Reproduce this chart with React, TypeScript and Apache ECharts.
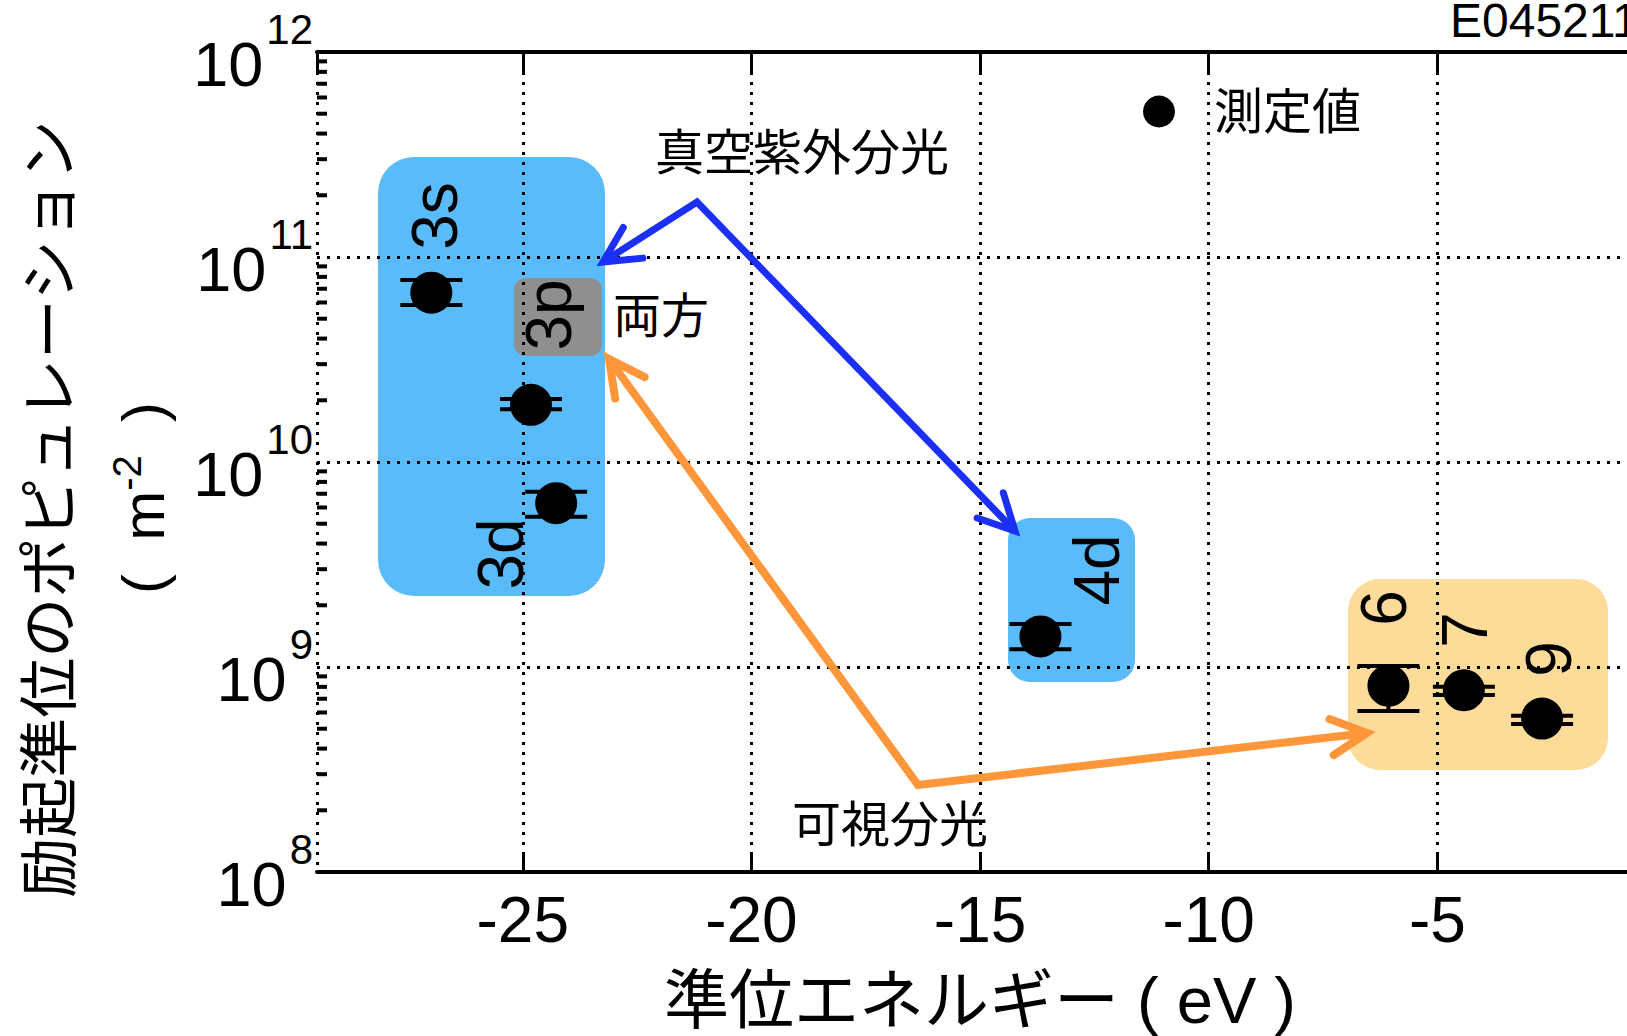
import React, { useEffect, useRef } from 'react';
import * as echarts from 'echarts';

// ---- data ----
const levels = ['3s', '3p', '3d', '4d', '6', '7', '9'];
const energies = [-27.0, -24.82, -24.27, -13.68, -6.07, -4.42, -2.71];
const populations = [6.7e10, 1.9e10, 6.3e9, 1.41e9, 8.1e8, 7.7e8, 5.6e8];
const errLow = [5.83e10, 1.81e10, 5.41e9, 1.22e9, 6.1e8, 7.3e8, 5.27e8];
const errHigh = [7.73e10, 2.03e10, 7.16e9, 1.62e9, 1.01e9, 8.0e8, 5.79e8];
const minorMultipliers = [2, 3, 4, 5, 6, 7, 8, 9];
const decades = [1e8, 1e9, 1e10, 1e11];
const xMin = -29.5;
const xMax = 0;

const FONT = "'Liberation Sans', 'Noto Sans CJK JP', sans-serif";
const BLUE = '#1C2FF5';
const ORANGE = '#FF963A';

type P = [number, number];
function arrowHead(tip: P, from: P, len = 40, angDeg = 27): number[][] {
  const dx = from[0] - tip[0];
  const dy = from[1] - tip[1];
  const l = Math.hypot(dx, dy);
  const ux = dx / l, uy = dy / l;
  const a = (angDeg * Math.PI) / 180;
  const r = (s: number) => [
    tip[0] + len * (ux * Math.cos(s * a) - uy * Math.sin(s * a)),
    tip[1] + len * (ux * Math.sin(s * a) + uy * Math.cos(s * a)),
  ];
  return [r(1), [tip[0], tip[1]], r(-1)];
}

export default function App() {
  const ref = useRef<HTMLDivElement>(null);
  useEffect(() => {
    if (!ref.current) return;
    const chart = echarts.init(ref.current, undefined, { renderer: 'svg' });

    const scatterData = energies.map((x, i) => [x, populations[i]]);
    const errData = energies.map((x, i) => [x, errLow[i], errHigh[i]]);
    const minorData: number[][] = [];
    decades.forEach((d) => minorMultipliers.forEach((m) => minorData.push([xMin, d * m])));

    // annotation geometry (pixels)
    const blueStart: P = [697, 202];
    const blueTip1: P = [603, 262];
    const blueTip2: P = [1015, 531];
    const orangeVertex: P = [918, 785];
    const orangeTip1: P = [609, 359];
    const orangeTip2: P = [1367, 733];

    const boxes = [
      { x: 378, y: 157, w: 227, h: 439, r: 36, c: '#5ABBFA' },
      { x: 514, y: 278, w: 88, h: 78, r: 12, c: '#8F8F8F' },
      { x: 1008, y: 518, w: 127, h: 164, r: 22, c: '#5ABBFA' },
      { x: 1348, y: 579, w: 260, h: 191, r: 32, c: '#FDDC9A' },
    ];
    const levelLabelPos: P[] = [
      [435, 216], [549, 315], [501, 554], [1097, 570], [1384, 608], [1465, 630], [1549, 659],
    ];

    const graphics: any[] = [];
    boxes.forEach((b) =>
      graphics.push({
        type: 'rect', z: -1, silent: true,
        shape: { x: b.x, y: b.y, width: b.w, height: b.h, r: b.r },
        style: { fill: b.c },
      })
    );
    levels.forEach((t, i) =>
      graphics.push({
        type: 'text', z: 10, x: levelLabelPos[i][0], y: levelLabelPos[i][1], rotation: Math.PI / 2,
        style: { text: t, fontSize: 64, fontFamily: FONT, fill: '#000', align: 'center', verticalAlign: 'middle' },
      })
    );
    const arrowStyle = (c: string, w: number, cap: string) => ({
      stroke: c, lineWidth: w, fill: 'none', lineJoin: 'miter', lineCap: cap,
    });
    graphics.push({
      type: 'polyline', z: 10, shape: { points: [blueTip1, blueStart, blueTip2] },
      style: arrowStyle(BLUE, 7, 'butt'),
    });
    graphics.push({ type: 'polyline', z: 10, shape: { points: arrowHead(blueTip1, blueStart) }, style: arrowStyle(BLUE, 7, 'round') });
    graphics.push({ type: 'polyline', z: 10, shape: { points: arrowHead(blueTip2, blueStart) }, style: arrowStyle(BLUE, 7, 'round') });
    graphics.push({
      type: 'polyline', z: 10, shape: { points: [orangeTip1, orangeVertex, orangeTip2] },
      style: arrowStyle(ORANGE, 8, 'butt'),
    });
    graphics.push({ type: 'polyline', z: 10, shape: { points: arrowHead(orangeTip1, orangeVertex) }, style: arrowStyle(ORANGE, 8, 'round') });
    graphics.push({ type: 'polyline', z: 10, shape: { points: arrowHead(orangeTip2, orangeVertex) }, style: arrowStyle(ORANGE, 8, 'round') });

    const texts: { t: string; x: number; y: number; s: number }[] = [
      { t: '真空紫外分光', x: 802, y: 153, s: 49 },
      { t: '両方', x: 661, y: 316, s: 48 },
      { t: '可視分光', x: 890, y: 825, s: 49 },
    ];
    texts.forEach((o) =>
      graphics.push({
        type: 'text', z: 10, x: o.x, y: o.y,
        style: { text: o.t, fontSize: o.s, fontFamily: FONT, fill: '#000', align: 'center', verticalAlign: 'middle' },
      })
    );
    graphics.push({
      type: 'text', z: 10, x: 1450, y: 20,
      style: { text: 'E045211', fontSize: 48, fontFamily: FONT, fill: '#000', align: 'left', verticalAlign: 'middle' },
    });
    graphics.push({
      type: 'text', z: 10, x: 980, y: 1000,
      style: { text: '準位エネルギー ( eV )', fontSize: 65, fontFamily: FONT, fill: '#000', align: 'center', verticalAlign: 'middle' },
    });
    graphics.push({
      type: 'text', z: 10, x: 50, y: 509, rotation: Math.PI / 2,
      style: { text: '励起準位のポピュレーション', fontSize: 60, fontFamily: FONT, fill: '#000', align: 'center', verticalAlign: 'middle' },
    });
    graphics.push({
      type: 'text', z: 10, x: 140, y: 498, rotation: Math.PI / 2,
      style: {
        text: '{a|(  m}{s|-2}{a|  )}', align: 'center', verticalAlign: 'middle',
        rich: {
          a: { fontSize: 60, fontFamily: FONT, fill: '#000', lineHeight: 66, verticalAlign: 'bottom' },
          s: { fontSize: 40, fontFamily: FONT, fill: '#000', lineHeight: 40, verticalAlign: 'top' },
        },
      },
    });

    const option: any = {
      animation: false,
      backgroundColor: '#fff',
      grid: { left: 317, top: 52, right: 34, bottom: 164, containLabel: false, outerBoundsMode: 'none' },
      legend: {
        data: ['測定値'], left: 1138, top: 82, itemWidth: 32, itemHeight: 32, icon: 'circle',
        itemStyle: { color: '#000', opacity: 1 },
        textStyle: { fontSize: 49, fontFamily: FONT, color: '#000', padding: [0, 0, 0, 34] },
        selectedMode: false,
      },
      xAxis: [
        {
          type: 'value', min: xMin, max: xMax, position: 'bottom',
          axisLine: { show: true, onZero: false, lineStyle: { color: '#000', width: 4 } },
          axisTick: { show: true, inside: true, length: 20, lineStyle: { color: '#000', width: 3 } },
          axisLabel: { showMinLabel: false, showMaxLabel: false, margin: 16, fontSize: 64, fontFamily: FONT, color: '#000' },
          splitLine: { show: true, lineStyle: { color: '#000', width: 3, type: [3, 7] } },
        },
        {
          type: 'value', min: xMin, max: xMax, position: 'top',
          axisLine: { show: true, onZero: false, lineStyle: { color: '#000', width: 4 } },
          axisTick: { show: true, inside: true, length: 20, lineStyle: { color: '#000', width: 3 } },
          axisLabel: { show: false },
          splitLine: { show: false },
        },
      ],
      yAxis: {
        type: 'log', logBase: 10, min: 1e8, max: 1e12,
        axisLine: { show: true, lineStyle: { color: '#000', width: 4 } },
        axisTick: { show: true, inside: true, length: 20, lineStyle: { color: '#000', width: 4 } },
        splitLine: { show: true, lineStyle: { color: '#000', width: 3, type: [3, 7] } },
        axisLabel: {
          margin: 4,
          formatter: (v: number) => `{b|10}{s|${Math.round(Math.log10(v))}}`,
          rich: {
            b: { fontSize: 63, padding: [24, 0, 0, 0], fontFamily: FONT, color: '#000' },
            s: { fontSize: 42, lineHeight: 42, verticalAlign: 'top', padding: [0, 0, 0, 3], fontFamily: FONT, color: '#000' },
          },
        },
      },
      graphic: graphics,
      series: [
        {
          type: 'custom', name: 'minorTicks', silent: true, clip: false, z: 3,
          data: minorData,
          encode: { x: 0, y: 1 },
          renderItem: (params: any, api: any) => {
            const p = api.coord([api.value(0), api.value(1)]);
            return {
              type: 'line',
              shape: { x1: p[0], y1: p[1], x2: p[0] + 10, y2: p[1] },
              style: { stroke: '#000', lineWidth: 4 },
            };
          },
        },
        {
          type: 'custom', name: 'errors', silent: true, z: 4,
          data: errData,
          encode: { x: 0, y: [1, 2] },
          renderItem: (params: any, api: any) => {
            const x = api.value(0);
            const lo = api.coord([x, api.value(1)]);
            const hi = api.coord([x, api.value(2)]);
            const hw = 31;
            const st = { stroke: '#000', lineWidth: 4 };
            return {
              type: 'group',
              children: [
                { type: 'line', shape: { x1: lo[0], y1: lo[1], x2: hi[0], y2: hi[1] }, style: st },
                { type: 'line', shape: { x1: lo[0] - hw, y1: lo[1], x2: lo[0] + hw, y2: lo[1] }, style: st },
                { type: 'line', shape: { x1: hi[0] - hw, y1: hi[1], x2: hi[0] + hw, y2: hi[1] }, style: st },
              ],
            };
          },
        },
        {
          type: 'scatter', name: '測定値', z: 5,
          symbol: 'circle', symbolSize: 42,
          itemStyle: { color: '#000', opacity: 1 },
          data: scatterData,
        },
      ],
    };
    chart.setOption(option);
    return () => chart.dispose();
  }, []);
  return (
    <div style={{ position: 'fixed', left: 0, top: 0, width: 1627, height: 1036, overflow: 'hidden', background: '#fff' }}>
      <div ref={ref} style={{ width: 1700, height: 1036 }} />
    </div>
  );
}
